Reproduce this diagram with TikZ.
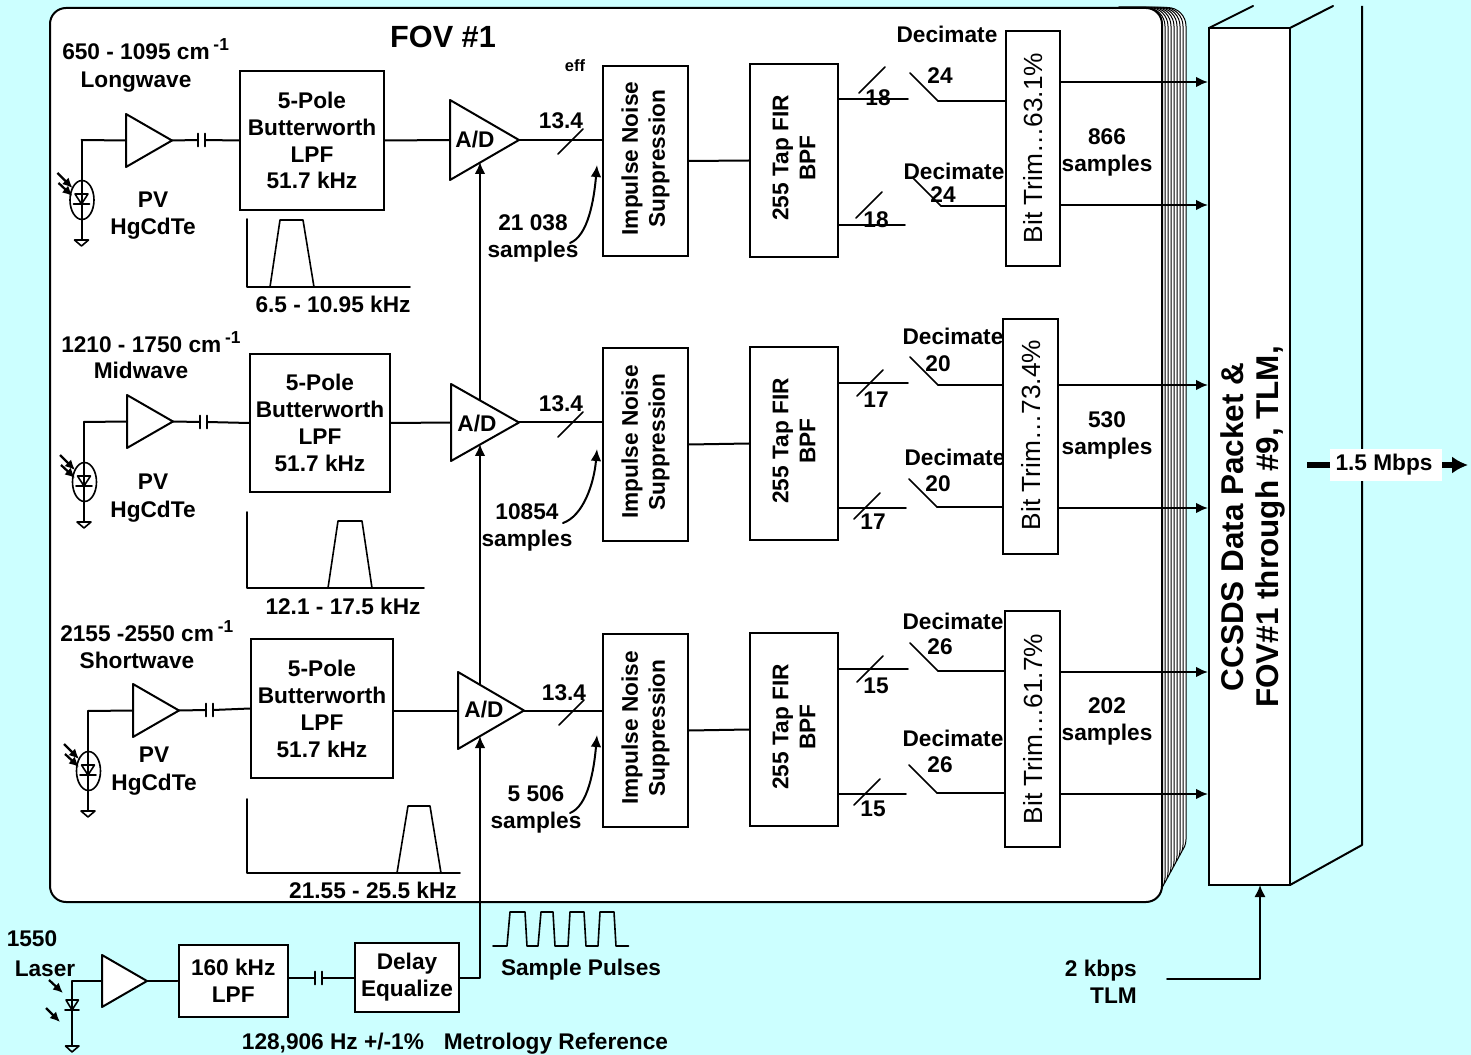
\documentclass[tikz,border=0pt]{standalone}
\usepackage{fontspec}
\setmainfont{Liberation Sans}
\usetikzlibrary{arrows.meta,calc}
\definecolor{bgcyan}{RGB}{204,255,255}
\tikzset{
  wire/.style={line width=1.5pt,line cap=round,line join=round},
  thinwire/.style={line width=1.2pt,line cap=round,line join=round},
  arrowwire/.style={wire,-{Latex[length=9pt,width=8pt]}},
  smallarrow/.style={line width=1.7pt,-{Latex[length=7.5pt,width=7pt]}},
  boxshape/.style={draw,line width=1.5pt,fill=white,inner sep=0pt,align=center,font=\fontsize{17}{20.2}\selectfont\bfseries},
  lab/.style={inner sep=0pt,align=center,font=\fontsize{17}{20.2}\selectfont\bfseries},
  bittext/.style={inner sep=0pt,rotate=90,font=\fontsize{19.7}{22}\selectfont},
  pagesheet/.style={draw,line width=.75pt,fill=white,rounded corners=14pt},
  tight/.style={lab,rotate=90}
}
\newcommand\pxbox[7][]{\node[boxshape,minimum width={(#4-#2)*0.75pt},minimum height={(#5-#3)*0.75pt},#1] (#6) at ({(#2+#4)/2},{(#3+#5)/2}) {#7};}
\newcommand\tri[5]{\draw[wire,fill=white] (#2,#3) -- (#4,{(#3+#5)/2}) -- (#2,#5) -- cycle;
  \coordinate (#1in) at (#2,{(#3+#5)/2}); \coordinate (#1out) at (#4,{(#3+#5)/2});}
\newcommand\capac[3]{\coordinate (#1a) at (#2,#3); \coordinate (#1b) at ({#2+7},#3);
  \draw[thinwire] ($(#1a)+(0,-6.5)$) -- ($(#1a)+(0,6.5)$);
  \draw[thinwire] ($(#1b)+(0,-6.5)$) -- ($(#1b)+(0,6.5)$);}
\newcommand\detector[3]{\coordinate (#1top) at (#2,#3);
  \begin{scope}[shift={(#2,#3)}]
    \draw[wire] (0,0) -- (0,100);
    \draw[thinwire] (0.5,60) ellipse [x radius=9pt,y radius=14.6pt];
    \draw[thinwire] (-6.5,54) -- (6.5,54) -- (0,64) -- cycle;
    \draw[thinwire] (-8,64) -- (8,64);
    \draw[thinwire] (-7,100) -- (7,100) -- (0,106) -- cycle;
    \draw[smallarrow] (-24,33) -- (-9,48);
    \draw[smallarrow] (-23,43) -- (-9,56);
  \end{scope}}
% id, fir, bittrim, wire end x, wire y, slash x, slash y, switch x, switch y
\newcommand\chain[9]{\coordinate (#1end) at (#4,#5);
  \coordinate (#1sw) at (#8,#9);
  \coordinate (#1piv) at ({#8+28},{#9+28});
  \draw[thinwire] (#2.east |- #1end) -- (#1end);
  \draw[thinwire] (#6,#7) -- ({#6+26},{#7-26});
  \draw[thinwire] (#1sw) -- (#1piv);
  \draw[wire] (#1piv) -- (#3.west |- #1piv);}
\begin{document}
\begin{tikzpicture}[x=0.75pt,y=-0.75pt]
\useasboundingbox (0,0) rectangle (1471,1055);
\fill[bgcyan] (0,0) rectangle (1471,1055);
% stacked sheets
\foreach \i in {8,7,...,1}{
  \draw[pagesheet] (1100,7.5) rectangle ({1162+3*\i},{902-5.5*\i});
}
\draw[draw=black,line width=1.5pt,fill=white,rounded corners=12pt] (50,8) rectangle (1162,902);
% 3D packet box faces
\coordinate (ftl) at (1209,28); \coordinate (ftr) at (1290,28); \coordinate (fbr) at (1290,885);
\coordinate (t1) at (1253,6); \coordinate (t2) at (1333,6); \coordinate (t3) at (1362,6); \coordinate (b3) at (1362,845);
\draw[wire] (ftl) -- (t1);
\draw[wire] (ftr) -- (t2);
\draw[wire,line cap=butt] (t3) -- (b3) -- (fbr);
\pxbox{1209}{28}{1290}{885}{front}{}
\node[inner sep=0pt,align=center,rotate=90,font=\fontsize{23.6}{26.3}\selectfont\bfseries] (packet) at (1252.5,527) {CCSDS Data Packet \&\\FOV\#1 through \#9, TLM,};
% 1.5 Mbps
\coordinate (mbL) at (1307,465); \coordinate (mbR) at (1468,465);
\draw[line width=3.8pt] (mbL) -- (1335,465);
\draw[line width=3.8pt,-{Latex[length=12pt,width=13pt]}] (1435,465) -- (mbR);
\node[fill=white,inner sep=0pt,minimum width=84pt,minimum height=24pt,font=\fontsize{17}{20.2}\selectfont\bfseries] (mbps) at (1386,465) {\hspace{-3pt}\raisebox{-1.5pt}{1.5 Mbps}};
% title and band labels
\node[lab,font=\fontsize{23}{26}\selectfont\bfseries] (fov) at (443,37) {FOV \#1};
\newcommand\cmone{\,\raisebox{.42em}{\fontsize{13}{13}\selectfont -1}}
\node[lab,anchor=west] (b1) at (62,49) {650 - 1095 cm\cmone};
\node[lab] (b1n) at (136,82) {Longwave};
\node[lab,anchor=west] (b2) at (61,342) {1210 - 1750 cm\cmone};
\node[lab] (b2n) at (141,370) {Midwave};
\node[lab,anchor=west] (b3t) at (60,631) {2155 -2550 cm\cmone};
\node[lab] (b3n) at (137,660) {Shortwave};
\node[lab] (pv1) at (153,216) {PV\\HgCdTe};
\node[lab] (pv2) at (153,498) {PV\\[1pt]HgCdTe};
\node[lab] (pv3) at (154,771) {PV\\[1pt]HgCdTe};
% spectra
\draw[thinwire] (247,219) -- (247,287) -- (410,287);
\draw[thinwire] (270,287) -- (280,220) -- (303,220) -- (314,287);
\node[lab] (f1) at (333,304) {6.5 - 10.95 kHz};
\draw[thinwire] (247,512) -- (247,588) -- (424,588);
\draw[thinwire] (328,588) -- (338,521) -- (362,521) -- (372,588);
\node[lab] (f2) at (343,606) {12.1 - 17.5 kHz};
\draw[thinwire] (247,799) -- (247,873) -- (460,873);
\draw[thinwire] (397,873) -- (408,806) -- (430,806) -- (441,873);
\node[lab] (f3) at (373,890) {21.55 - 25.5 kHz};
% other texts
\node[lab,font=\fontsize{12.3}{14}\selectfont\bfseries] (eff) at (575,66) {eff};
\node[lab] (n1a) at (561,121) {13.4};
\node[lab] (n2a) at (561,404) {13.4};
\node[lab] (n3a) at (564,693) {13.4};
\node[lab] (s1) at (533,238) {21 038\\samples};
\node[lab] (s2) at (527,527) {10854\\samples};
\node[lab] (s3) at (536,809) {5 506\\samples};
\foreach \nm/\tx/\ty/\sx/\sy/\nmb in {d1a/947/34/940/76/24,d1b/954/171/943/195/24,d2a/953/336/938/364/20,d2b/955/457/938/484/20,d3a/953/621/940/647/26,d3b/953/738/940/765/26}{
  \node[lab] (\nm) at (\tx,\ty) {Decimate};
  \node[lab] (\nm v) at (\sx,\sy) {\nmb};
}
% filter boxes
\pxbox{240}{71}{384}{210}{lp1}{5-Pole\\Butterworth\\LPF\\51.7 kHz}
\pxbox{250}{354}{390}{492}{lp2}{5-Pole\\Butterworth\\LPF\\51.7 kHz}
\pxbox{251}{639}{393}{778}{lp3}{5-Pole\\Butterworth\\LPF\\51.7 kHz}
\foreach \nm/\ya/\yb in {ins1/66/256,ins2/348/541,ins3/634/827}{
  \pxbox{603}{\ya}{688}{\yb}{\nm}{}
  \node[tight] (\nm t) at ($(\nm)+(0,-2.5)$) {Impulse Noise\\Suppression};
}
\foreach \nm/\ya/\yb in {fir1/64/257,fir2/347/540,fir3/633/826}{
  \pxbox{750}{\ya}{838}{\yb}{\nm}{}
  \node[tight] (\nm t) at ($(\nm)+(0,-2.5)$) {255 Tap FIR\\BPF};
}
\pxbox{1006}{31}{1060}{266}{bt1}{}
\node[bittext] (bt1t) at (1033,148) {Bit Trim…63.1\%};
\pxbox{1003}{319}{1058}{554}{bt2}{}
\node[bittext] (bt2t) at (1031,435) {Bit Trim…73.4\%};
\pxbox{1005}{611}{1060}{847}{bt3}{}
\node[bittext] (bt3t) at (1033,729) {Bit Trim…61.7\%};
\node[lab] (c1) at (1107,152) {866\\samples};
\node[lab] (c2) at (1107,435) {530\\samples};
\node[lab] (c3) at (1107,721) {202\\samples};
% amplifiers and A/D
\tri{a1}{126}{114}{172}{167}
\tri{a2}{127}{395}{173}{448}
\tri{a3}{133}{684}{179}{737}
\tri{ad1}{450}{100}{519}{180}
\tri{ad2}{451}{384}{519}{461}
\tri{ad3}{458}{672}{524}{749}
\node[lab] (ad1t) at (475,140) {A/D};
\node[lab] (ad2t) at (477,424) {A/D};
\node[lab] (ad3t) at (484,710) {A/D};
% detectors
\detector{d1}{81.5}{140}
\detector{d2}{84}{422}
\detector{d3}{88}{711}
\draw[wire] (d1top) -- (a1in);
\draw[wire] (d2top) -- (a2in);
\draw[wire] (d3top) -- (a3in);
\capac{k1}{198}{140}
\capac{k2}{200}{422}
\capac{k3}{206}{710}
\draw[wire] (a1out) -- (k1a); \draw[wire] (k1b) -- (lp1.west);
\draw[wire] (a2out) -- (k2a); \draw[wire] (k2b) -- (lp2.west);
\draw[wire] (a3out) -- (k3a); \draw[wire] (k3b) -- (lp3.west);
\draw[wire] (lp1.east) -- (ad1in);
\draw[wire] (lp2.east) -- (ad2in);
\draw[wire] (lp3.east |- ad3in) -- (ad3in);
% A/D to impulse
\draw[wire] (ad1out) -- (ins1.west |- ad1out);
\draw[wire] (ad2out) -- (ins2.west |- ad2out);
\draw[wire] (ad3out) -- (ins3.west |- ad3out);
\draw[thinwire] (558,154) -- (583,129);
\draw[thinwire] (558,437) -- (583,412);
\draw[thinwire] (559,725) -- (584,700);
% sample count pointers
\coordinate (p1s) at (570,243); \coordinate (p1e) at (597,165);
\coordinate (p2s) at (563,523); \coordinate (p2e) at (597,449);
\coordinate (p3s) at (570,813); \coordinate (p3e) at (597,735);
\draw[arrowwire] (p1s) .. controls (588,236) and (594,200) .. (p1e);
\draw[arrowwire] (p2s) .. controls (583,516) and (594,484) .. (p2e);
\draw[arrowwire] (p3s) .. controls (588,806) and (594,770) .. (p3e);
% impulse to FIR
\draw[wire] (ins1.east) -- (fir1.west);
\draw[wire] (ins2.east) -- (fir2.west);
\draw[wire] (ins3.east) -- (fir3.west);
% FIR to decimators to bit trim
\chain{c1a}{fir1}{bt1}{908}{99}{859}{93}{910}{73}
\chain{c1b}{fir1}{bt1}{905}{225}{856}{218}{913}{178}
\chain{c2a}{fir2}{bt2}{908}{383}{857}{396}{910}{357}
\chain{c2b}{fir2}{bt2}{906}{508}{854}{519}{909}{479}
\chain{c3a}{fir3}{bt3}{908}{669}{857}{682}{910}{643}
\chain{c3b}{fir3}{bt3}{906}{794}{854}{805}{909}{765}
\node[lab] (q1a) at (878,98) {18};
\node[lab] (q1b) at (876,220) {18};
\node[lab] (q2a) at (876,400) {17};
\node[lab] (q2b) at (873,522) {17};
\node[lab] (q3a) at (876,686) {15};
\node[lab] (q3b) at (873,809) {15};
% bit trim to packet
\foreach \nm/\y in {bt1/82,bt1/205,bt2/385,bt2/508,bt3/672,bt3/794}{
  \coordinate (o) at (1209,\y);
  \draw[arrowwire] (\nm.east |- o) -- (front.west |- o);
}
% metrology laser
\node[lab] (l1550) at (32,939) {1550};
\node[lab] (laser) at (45,969) {Laser};
\tri{a4}{102}{955}{147}{1007}
\coordinate (lz) at (72,981);
\draw[wire] (a4in |- lz) -- (lz) -- (72,1046);
\draw[thinwire] (66,1000) -- (78.5,1000) -- (72,1010) -- cycle;
\draw[thinwire] (65,1010) -- (79,1010);
\draw[thinwire] (65.5,1046) -- (79,1046) -- (72,1052) -- cycle;
\draw[smallarrow] (49,980) -- (63,993);
\draw[smallarrow] (46,1008) -- (60,1022);
\pxbox{178.5}{945}{288}{1017}{lp4}{160 kHz\\LPF}
\pxbox{355}{943}{459}{1012}{delay}{Delay\\Equalize}
\capac{k4}{315}{978}
\draw[wire] (a4out) -- (lp4.west);
\draw[wire] (lp4.east |- k4a) -- (k4a);
\draw[wire] (k4b) -- (delay.west |- k4b);
\coordinate (up1) at (480,736); \coordinate (up2) at (480,444); \coordinate (up3) at (480,162);
\coordinate (top3) at (480,684); \coordinate (top2) at (480,400);
\draw[arrowwire] (delay.east) -| (up1);
\draw[arrowwire] (top3) -- (up2);
\draw[arrowwire] (top2) -- (up3);
\draw[thinwire] (493,946) -- (507,946) -- (510,912) -- (525,912) -- (527,946) -- (538,946) -- (541,912) -- (553,912) -- (555,946) -- (568,946) -- (570,912) -- (584,912) -- (586,946) -- (598,946) -- (600,912) -- (614,912) -- (616,946) -- (628.5,946);
\node[lab] (pulses) at (581,970) {Sample Pulses};
\node[lab] (metro) at (455,1044) {128,906 Hz +/-1\%\hspace{.6em} Metrology Reference};
\node[lab,align=right,anchor=east] (tlm) at (1137,982) {2 kbps\\TLM};
\coordinate (tlmS) at (1167,979);
\coordinate (tlmE) at (1260,885);
\draw[wire,-{Latex[length=9pt,width=8.5pt]}] (tlmS) -| (tlmE);
\end{tikzpicture}
\end{document}
